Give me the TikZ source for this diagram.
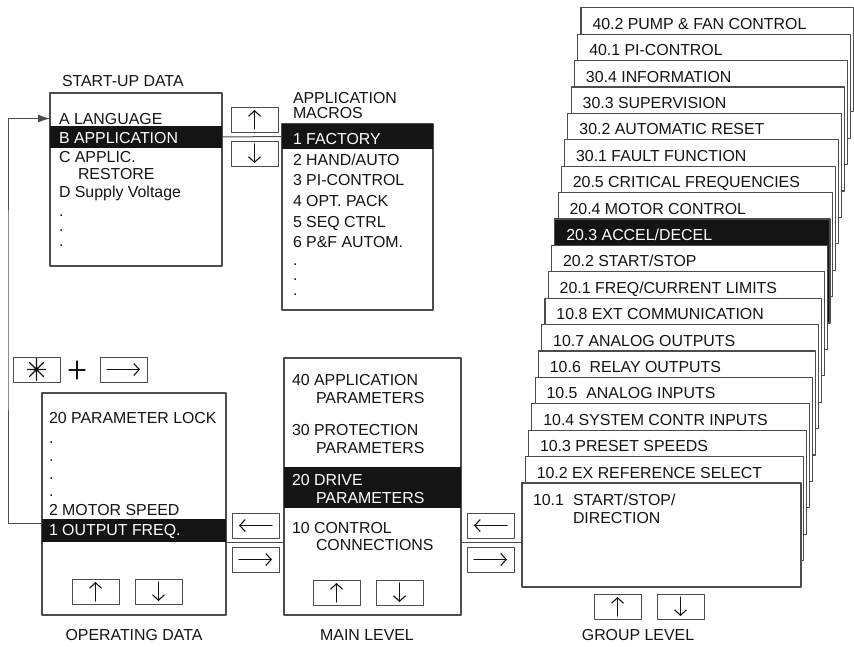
\documentclass[tikz,border=0pt]{standalone}
\usepackage{fontspec}
\setmainfont{Liberation Sans}
\usetikzlibrary{arrows.meta,positioning}
\definecolor{rim}{gray}{0.3}
\definecolor{ink}{gray}{0.08}

\begin{document}
\begin{tikzpicture}[x=1pt,y=-1pt,line cap=round,line join=round,
  every node/.style={inner sep=0pt,outer sep=0pt,font=\fontsize{15.9}{18}\selectfont,text=ink},
  panel/.style={draw=rim,line width=1.1pt,fill=white,anchor=north west},
  hibar/.style={fill=ink,anchor=north west},
  key/.style={draw=rim,line width=1pt,fill=white,minimum width=47pt,minimum height=25pt,anchor=north west},
  txt/.style={anchor=base west},
  wtxt/.style={anchor=base west,text=white},
  tip/.style={draw=ink,line width=1.1pt,-{Straight Barb[length=5.5pt,width=12pt]}},
  link/.style={draw=rim,line width=1pt}]
  \useasboundingbox (0,0) rectangle (854,646);

  % start-up data
  \node[txt] (stitle) at (62,86) {START-UP DATA};
  \node[panel,minimum width=172pt,minimum height=173pt] (sbox) at (50,93) {};
  \node[txt] (lang) at (59,124) {A LANGUAGE};
  \node[hibar,minimum width=172pt,minimum height=22pt] (bbar) at (50,126) {};
  \node[wtxt] (bapp) at (59,143) {B APPLICATION};
  \node[txt] (capp) at (59,162) {C APPLIC.};
  \node[txt] (crest) at (78,179) {RESTORE};
  \node[txt] (dsup) at (59,197) {D Supply Voltage};
  \foreach \y [count=\n] in {216,231,246}
    \node[txt] (sdot\n) at (59,\y) {.};

  % application macros
  \node[txt] (mtitle) at (293,103) {APPLICATION};
  \node[txt] (mtitle2) at (293,118) {MACROS};
  \node[panel,minimum width=151pt,minimum height=186pt] (mbox) at (282,124) {};
  \node[hibar,minimum width=151pt,minimum height=25pt] (fbar) at (282,124) {};
  \node[wtxt] (m1) at (293,144) {1 FACTORY};
  \foreach \y/\t [count=\n from 2] in {165/{2 HAND/AUTO},185/{3 PI-CONTROL},206/{4 OPT. PACK},
      227/{5 SEQ CTRL},247/{6 P\&F AUTOM.},265/.,280/.,295/.}
    \node[txt] (m\n) at (293,\y) {\t};

  \node[key] (kup1) at (231,107) {};
  \node[key] (kdn1) at (231,141) {};

  % operating data
  \node[key] (kstar) at (13,357) {};
  \coordinate (plus) at (77,370);
  \node[key] (kright) at (100,357) {};
  \node[panel,minimum width=184pt,minimum height=222pt] (opbox) at (42,393) {};
  \node[txt] (plock) at (49,423) {20 PARAMETER LOCK};
  \foreach \y [count=\n] in {443,461,479,496}
    \node[txt] (odot\n) at (49,\y) {.};
  \node[txt] (mspeed) at (49,515) {2 MOTOR SPEED};
  \node[hibar,minimum width=184pt,minimum height=23pt] (outbar) at (42,519) {};
  \node[wtxt] (ofreq) at (49,535) {1 OUTPUT FREQ.};
  \node[key] (opup) at (72,579) {};
  \node[key] (opdn) at (135,579) {};
  \node[anchor=base] (oplab) at (134,640) {OPERATING DATA};

  % main level
  \node[key] (ml) at (232,513) {};
  \node[key] (mr) at (232,547) {};
  \node[panel,minimum width=177pt,minimum height=257pt] (mainbox) at (284,358) {};
  \node[txt] (p40) at (292,385) {40 APPLICATION};
  \node[txt] (p40b) at (316,403) {PARAMETERS};
  \node[txt] (p30) at (292,435) {30 PROTECTION};
  \node[txt] (p30b) at (316,453) {PARAMETERS};
  \node[hibar,minimum width=177pt,minimum height=41pt] (dbar) at (284,467) {};
  \node[wtxt] (p20) at (292,485) {20 DRIVE};
  \node[wtxt] (p20b) at (316,503) {PARAMETERS};
  \node[txt] (p10) at (292,533) {10 CONTROL};
  \node[txt] (p10b) at (316,550) {CONNECTIONS};
  \node[key] (mainup) at (313,580) {};
  \node[key] (maindn) at (376,580) {};
  \node[anchor=base] (mainlab) at (367,640) {MAIN LEVEL};

  % group level
  \node[key] (gl) at (467,513) {};
  \node[key] (gr) at (467,547) {};
  \foreach \i/\lab in {18/{40.2 PUMP \& FAN CONTROL},17/{40.1 PI-CONTROL},16/{30.4 INFORMATION},
      15/{30.3 SUPERVISION},14/{30.2 AUTOMATIC RESET},13/{30.1 FAULT FUNCTION},
      12/{20.5 CRITICAL FREQUENCIES},11/{20.4 MOTOR CONTROL},10/{20.3 ACCEL/DECEL},
      9/{20.2 START/STOP},8/{20.1 FREQ/CURRENT LIMITS},7/{10.8 EXT COMMUNICATION},
      6/{10.7 ANALOG OUTPUTS},5/{10.6\ \ RELAY OUTPUTS},4/{10.5\ \ ANALOG INPUTS},
      3/{10.4 SYSTEM CONTR INPUTS},2/{10.3 PRESET SPEEDS},1/{10.2 EX REFERENCE SELECT}}{
    \ifnum\i=10 \def\bg{ink}\def\fg{white}\else\def\bg{white}\def\fg{ink}\fi
    \node[panel,fill=\bg,minimum width={279pt-0.38pt*\i},minimum height=104pt] (card\i)
      at ({522+3.28*\i},{483-26.4*\i}) {};
    \node[txt,text=\fg] (cl\i) at ([xshift=11.5pt,yshift=-21.5pt]card\i.north west) {\lab};
  }
  \node[panel,minimum width=279pt,minimum height=104pt] (card0) at (522,483) {};
  \node[txt] (cl0) at (533,505) {10.1};
  \node[txt] (cl0a) at (573,505) {START/STOP/};
  \node[txt] (cl0b) at (573,523) {DIRECTION};
  \node[key] (grpup) at (594,594) {};
  \node[key] (grpdn) at (657,594) {};
  \node[anchor=base] (grplab) at (638,640) {GROUP LEVEL};

  % key arrows
  \foreach \k in {kup1,opup,mainup,grpup}
    \draw[tip,shorten <=3pt,shorten >=3pt] (\k.south) -- (\k.north);
  \foreach \k in {kdn1,opdn,maindn,grpdn}
    \draw[tip,shorten <=3pt,shorten >=3pt] (\k.north) -- (\k.south);
  \foreach \k in {ml,gl}
    \draw[tip,shorten <=7pt,shorten >=7pt] (\k.east) -- (\k.west);
  \foreach \k in {mr,gr,kright}
    \draw[tip,shorten <=7pt,shorten >=7pt] (\k.west) -- (\k.east);
  \draw[ink,line width=1.2pt] (kstar.center) ++(-9,0) -- ++(18,0)
    (kstar.center) ++(0,-11) -- ++(0,22)
    (kstar.center) ++(-7,-7) -- ++(14,14)
    (kstar.center) ++(-7,7) -- ++(14,-14);
  \draw[ink,line width=1.2pt] (plus) ++(-8,0) -- ++(16,0) (plus) ++(0,-9) -- ++(0,18);

  % connectors
  \coordinate (loopx) at (8,300);
  \draw[link] (bbar.east) -- (fbar.west);
  \draw[link] (outbar.south east) -- (mainbox.west |- outbar.south east);
  \draw[link] (mainbox.east |- outbar.south) -- (card0.west |- outbar.south);
  \draw[link,-{Latex[length=12pt,width=8pt]}] ([yshift=-4pt]outbar.north west) -| (loopx)
    |- (sbox.west |- lang);
\end{tikzpicture}
\end{document}
